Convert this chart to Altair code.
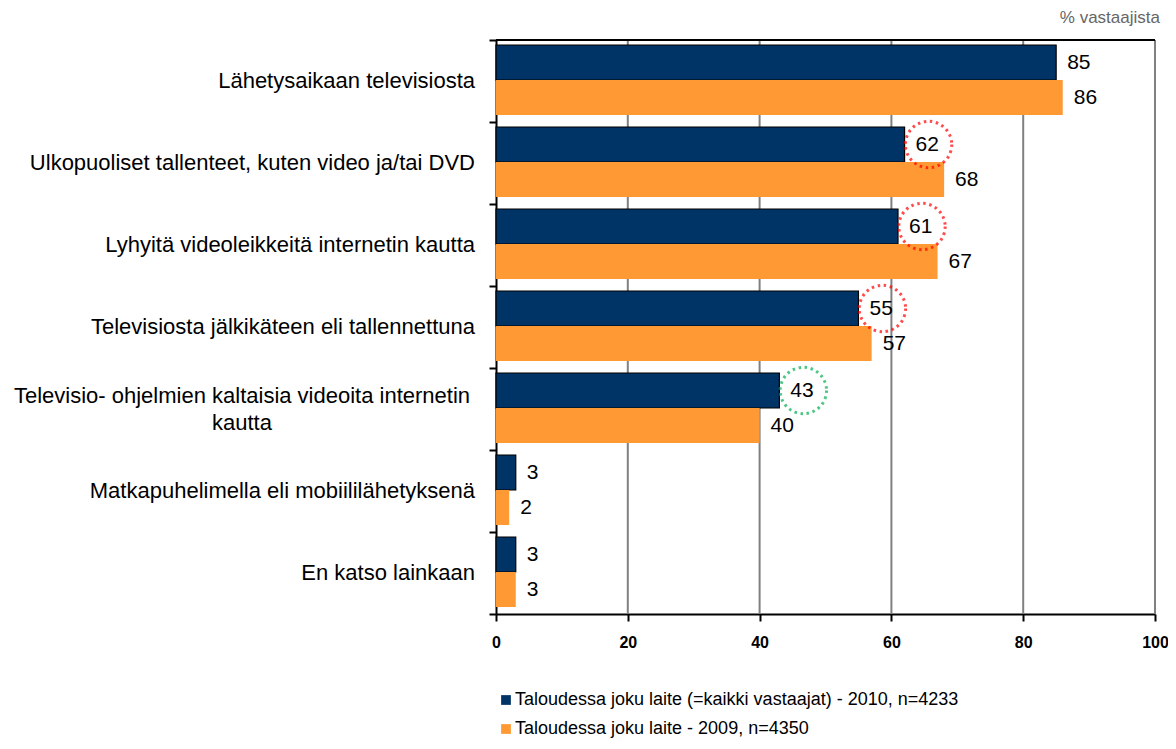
import altair as alt
import pandas as pd

categories = [
    "Lähetysaikaan televisiosta",
    "Ulkopuoliset tallenteet, kuten video ja/tai DVD",
    "Lyhyitä videoleikkeitä internetin kautta",
    "Televisiosta jälkikäteen eli tallennettuna",
    "Televisio- ohjelmien kaltaisia videoita internetin|kautta",
    "Matkapuhelimella eli mobiililähetyksenä",
    "En katso lainkaan",
]
series_names = [
    "Taloudessa joku laite (=kaikki vastaajat) - 2010, n=4233",
    "Taloudessa joku laite - 2009, n=4350",
]
values_2010 = [85, 62, 61, 55, 43, 3, 3]
values_2009 = [86, 68, 67, 57, 40, 2, 3]
highlight_2010 = [None, "#FF0000", "#FF0000", "#FF0000", "#00B050", None, None]
x_ticks = [0, 20, 40, 60, 80, 100]
grid_ticks = [20, 40, 60, 80, 100]

df10 = pd.DataFrame({"cat": categories, "series": series_names[0], "value": values_2010})
df09 = pd.DataFrame({"cat": categories, "series": series_names[1], "value": values_2009})
cat_df = pd.DataFrame({"cat": categories})
circ = pd.DataFrame([
    {"cat": c, "value": v, "hl": h}
    for c, v, h in zip(categories, values_2010, highlight_2010) if h
])
grid_df = pd.DataFrame({"g": grid_ticks})

W, H = 659, 574
NAVY = "#003366"
ORANGE = "#FF9933"
FONT = "Liberation Sans"
BAR_H = 35
OFF_10 = -18.5
OFF_09 = 16.5

y_enc = alt.Y(
    "cat:N",
    sort=categories,
    title=None,
    scale=alt.Scale(domain=categories, paddingInner=0, paddingOuter=0),
    axis=alt.Axis(
        bandPosition=1,
        tickExtra=True,
        domainColor="black",
        domainWidth=2,
        tickColor="black",
        tickWidth=2,
        tickSize=7,
        labels=False,
        grid=False,
    ),
)
x_enc = alt.X(
    "value:Q",
    title=None,
    scale=alt.Scale(domain=[0, 100], nice=False),
    axis=alt.Axis(
        values=x_ticks,
        domainColor="black",
        domainWidth=2,
        tickColor="black",
        tickWidth=2,
        tickSize=7,
        labelFont=FONT,
        labelFontSize=16,
        labelFontWeight="bold",
        labelColor="black",
        labelPadding=13,
        labelFlush=False,
        grid=False,
    ),
)

color_enc = alt.Color(
    "series:N",
    scale=alt.Scale(domain=series_names, range=[NAVY, ORANGE]),
    legend=alt.Legend(
        title=None,
        orient="none",
        legendX=1,
        legendY=651,
        direction="vertical",
        symbolType="square",
        symbolSize=95,
        symbolStrokeWidth=0,
        labelFont=FONT,
        labelFontSize=18,
        labelColor="black",
        labelLimit=800,
        labelOffset=0,
        rowPadding=11,
    ),
)

grid = alt.Chart(grid_df).mark_rule(color="#808080", strokeWidth=2).encode(
    x=alt.X("g:Q", scale=alt.Scale(domain=[0, 100], nice=False))
)

bars_2010 = alt.Chart(df10).mark_bar(
    stroke="black", strokeWidth=1.2, height=BAR_H, yOffset=OFF_10
).encode(y=y_enc, x=x_enc, color=color_enc)

bars_2009 = alt.Chart(df09).mark_bar(
    height=BAR_H, yOffset=OFF_09
).encode(y=alt.Y("cat:N", sort=categories), x=alt.X("value:Q"), color=alt.Color("series:N"))

labels_2010 = alt.Chart(df10).mark_text(
    align="left", baseline="middle", dx=11, dy=OFF_10, font=FONT, fontSize=21, color="black"
).encode(y=alt.Y("cat:N", sort=categories), x=alt.X("value:Q"), text=alt.Text("value:Q"))

labels_2009 = alt.Chart(df09).mark_text(
    align="left", baseline="middle", dx=11, dy=OFF_09, font=FONT, fontSize=21, color="black"
).encode(y=alt.Y("cat:N", sort=categories), x=alt.X("value:Q"), text=alt.Text("value:Q"))

cat_single = alt.Chart(cat_df).transform_filter(
    "indexof(datum.cat, '|') < 0"
).mark_text(
    align="right", baseline="middle", font=FONT, fontSize=22, color="black"
).encode(y=alt.Y("cat:N", sort=categories), x=alt.value(-21), text="cat:N")

cat_multi = alt.Chart(cat_df).transform_filter(
    "indexof(datum.cat, '|') >= 0"
).mark_text(
    align="center", baseline="middle", font=FONT, fontSize=22, color="black",
    lineBreak="|", lineHeight=27, dy=-13.5,
).encode(y=alt.Y("cat:N", sort=categories), x=alt.value(-254), text="cat:N")

circles = alt.Chart(circ).mark_point(
    shape="circle", filled=False, size=2150, strokeWidth=3, strokeDash=[2.5, 3.6],
    xOffset=24, yOffset=OFF_10,
).encode(
    y=alt.Y("cat:N", sort=categories),
    x=alt.X("value:Q"),
    stroke=alt.Stroke("hl:N", scale=None),
)

top_line = alt.Chart(pd.DataFrame({"a": [0]})).mark_rule(color="black", strokeWidth=2).encode(
    x=alt.value(0), x2=alt.value(W), y=alt.value(0)
)

unit = alt.Chart(pd.DataFrame({"t": ["% vastaajista"]})).mark_text(
    align="right", baseline="middle", font=FONT, fontSize=17, color="#666666"
).encode(x=alt.value(W + 5), y=alt.value(-22), text="t:N")

chart = alt.layer(
    grid, bars_2010, bars_2009, labels_2010, labels_2009, cat_single, cat_multi,
    circles, top_line, unit
).properties(
    width=W,
    height=H,
    autosize=alt.AutoSizeParams(type="none"),
    padding={"left": 488, "top": 32, "right": 13, "bottom": 127},
).configure(background="white").configure_view(stroke=None)

chart.save("out.html", embed_options={"renderer": "svg", "actions": False})
